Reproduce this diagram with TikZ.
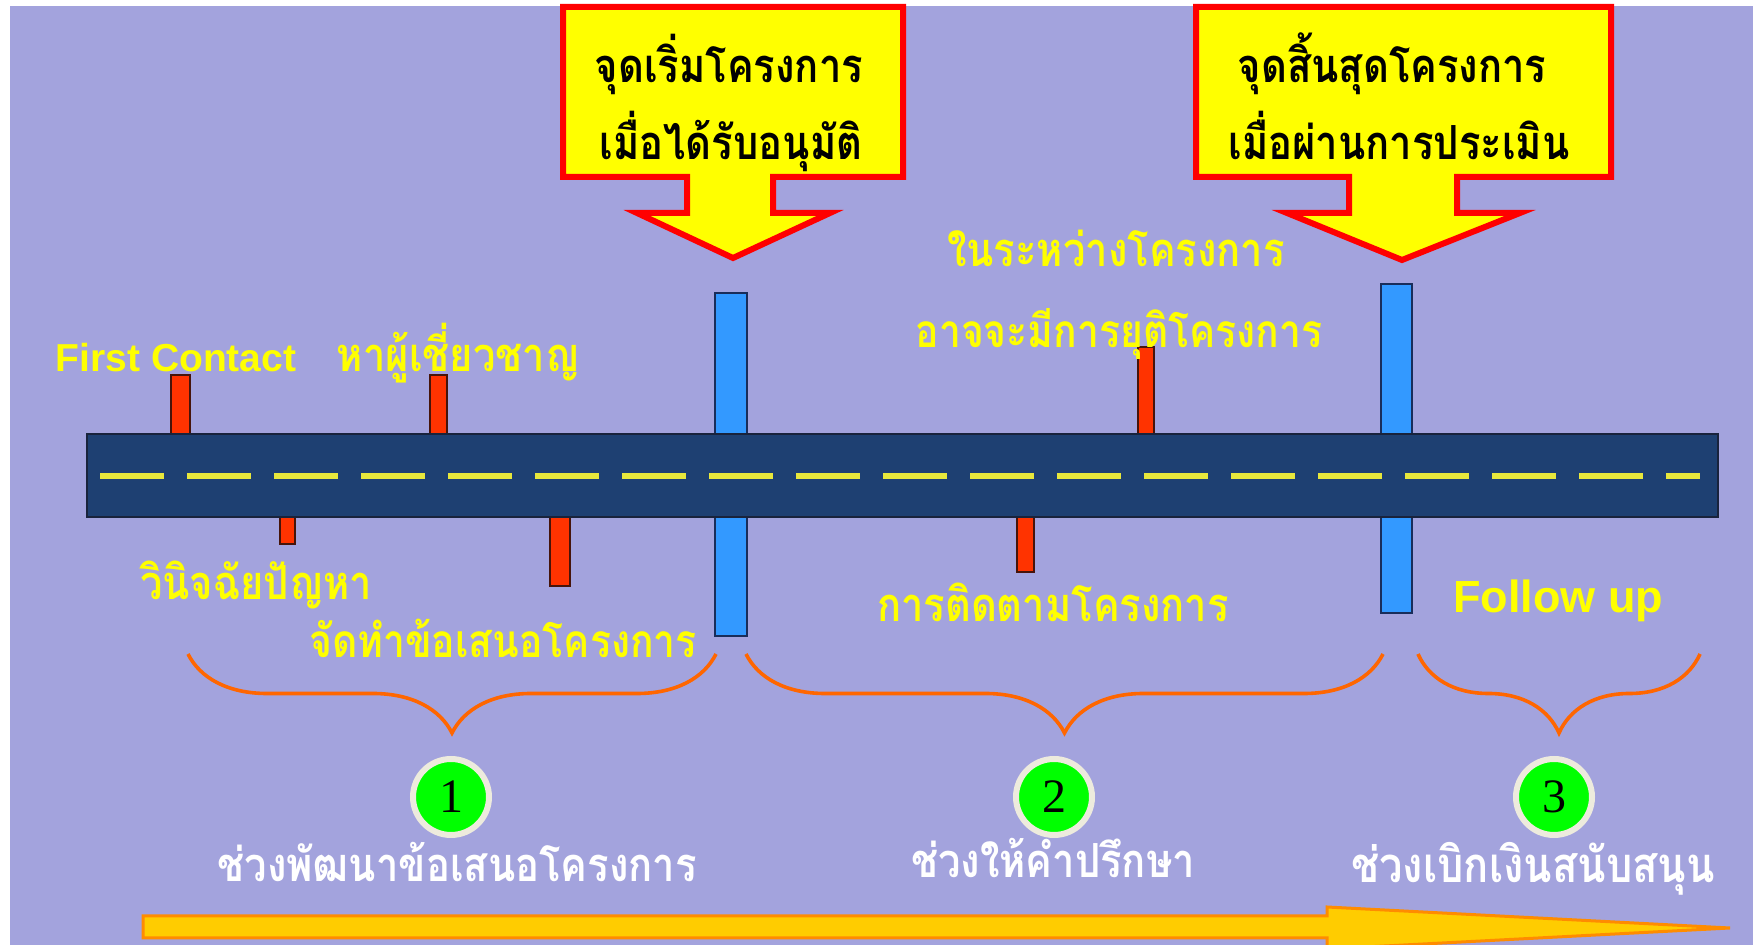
\documentclass[tikz,border=0pt]{standalone}
\usepackage{fontspec}
\usetikzlibrary{decorations.pathreplacing}
\newfontfamily\thai[Script=Thai,FakeStretch=0.85]{Loma}
\newfontfamily\engsans{Liberation Sans}
\newfontfamily\numfont{Liberation Serif}
\definecolor{bgc}{RGB}{163,163,221}
\definecolor{roadc}{RGB}{30,64,114}
\definecolor{roadedge}{RGB}{25,35,60}
\definecolor{dashc}{RGB}{232,232,60}
\definecolor{tickred}{RGB}{255,51,0}
\definecolor{tickedge}{RGB}{70,20,10}
\definecolor{barblue}{RGB}{51,153,255}
\definecolor{baredge}{RGB}{25,45,90}
\definecolor{callfill}{RGB}{255,255,0}
\definecolor{callred}{RGB}{255,0,0}
\definecolor{bracec}{RGB}{255,102,0}
\definecolor{greenc}{RGB}{0,255,0}
\definecolor{ringc}{RGB}{237,235,221}
\definecolor{arrfill}{RGB}{255,204,0}
\definecolor{arredge}{RGB}{255,140,0}
\definecolor{labyellow}{RGB}{255,255,0}
\tikzset{
  callout/.style={fill=callfill,draw=callred,line width=3pt,line join=miter},
  calltext/.style={anchor=base,inner sep=0pt,text=black,font=\thai\bfseries\fontsize{23.5}{25}\selectfont},
  ylabel/.style={anchor=base,inner sep=0pt,text=labyellow,font=\thai\bfseries\fontsize{23.5}{25}\selectfont},
  elabel/.style={anchor=base,inner sep=0pt,text=labyellow,font=\engsans\bfseries\fontsize{19.5}{22}\selectfont},
  wlabel/.style={anchor=base,inner sep=0pt,text=white,font=\thai\bfseries\fontsize{23.5}{25}\selectfont},
  tick/.style={fill=tickred,draw=tickedge,line width=0.8pt},
  bluebar/.style={fill=barblue,draw=baredge,line width=1pt},
  phasebrace/.style={draw=bracec,line width=1.8pt,decorate,decoration={brace,mirror,amplitude=39.5pt}},
  numcircle/.style={circle,fill=greenc,draw=ringc,line width=3pt,minimum size=38pt,inner sep=0pt,font=\numfont\fontsize{24}{24}\selectfont,text=black},
}
\begin{document}
\begin{tikzpicture}[x=0.5pt,y=-0.5pt]
\useasboundingbox (0,0) rectangle (1753,945);
\clip (0,0) rectangle (1753,945);
\fill[white] (0,0) rectangle (1753,945);
\fill[bgc] (10,6) rectangle (1753,945);

% blue milestone bars
\draw[bluebar] (715,293) rectangle (747,636);
\draw[bluebar] (1381,284) rectangle (1412,613);

% red ticks above
\draw[tick] (171,375) rectangle (190,436);
\draw[tick] (430,375) rectangle (447,436);
\draw[tick] (1138,347) rectangle (1154,436);
% red ticks below
\draw[tick] (280,516) rectangle (295,544);
\draw[tick] (550,516) rectangle (570,586);
\draw[tick] (1017,516) rectangle (1034,572);

% road
\draw[fill=roadc,draw=roadedge,line width=1pt] (87,434) rectangle (1718,517);
\coordinate (dashA) at (100,476);
\coordinate (dashB) at (1700,476);
\draw[dashc,line width=3.2pt,dash pattern=on 32pt off 11.5pt] (dashA) -- (dashB);

% callouts
\draw[callout] (563,7) -- (903,7) -- (903,177) -- (773,177) -- (773,213) -- (830,213) -- (733,258) -- (637,213) -- (687,213) -- (687,177) -- (563,177) -- cycle;
\draw[callout] (1196,7) -- (1611,7) -- (1611,177) -- (1457,177) -- (1457,213) -- (1520,213) -- (1402,260) -- (1287,213) -- (1349,213) -- (1349,177) -- (1196,177) -- cycle;
\node[calltext] (c1a) at (729,83) {จุดเริ่มโครงการ};
\node[calltext] (c1b) at (731,160) {เมื่อได้รับอนุมัติ};
\node[calltext] (c2a) at (1392,83) {จุดสิ้นสุดโครงการ};
\node[calltext] (c2b) at (1399,160) {เมื่อผ่านการประเมิน};

% yellow labels
\node[elabel] (fc) at (176,372) {First Contact};
\node[ylabel] (expert) at (458,372) {หาผู้เชี่ยวชาญ};
\node[ylabel] (during1) at (1116,267) {ในระหว่างโครงการ};
\node[ylabel,font=\thai\bfseries\fontsize{23}{25}\selectfont] (during2) at (1119,348) {อาจจะมีการยุติโครงการ};
\node[ylabel] (diag) at (256,600) {วินิจฉัยปัญหา};
\node[ylabel,font=\thai\bfseries\fontsize{23}{25}\selectfont] (propose) at (503,658) {จัดทำข้อเสนอโครงการ};
\node[ylabel] (track) at (1053,622) {การติดตามโครงการ};
\node[elabel,font=\engsans\bfseries\fontsize{22.5}{24}\selectfont] (follow) at (1558,613) {Follow up};

% braces
\draw[phasebrace] (188,654) -- (716,654);
\draw[phasebrace] (746,654) -- (1383,654);
\draw[phasebrace] (1418,654) -- (1700,654);

% numbered circles
\node[numcircle] (n1) at (451,797) {1};
\node[numcircle] (n2) at (1054,797) {2};
\node[numcircle] (n3) at (1554,797) {3};

% phase labels
\node[wlabel] (p1) at (457,882) {ช่วงพัฒนาข้อเสนอโครงการ};
\node[wlabel] (p2) at (1053,878) {ช่วงให้คำปรึกษา};
\node[wlabel,font=\thai\bfseries\fontsize{24.5}{26}\selectfont] (p3) at (1533,883) {ช่วงเบิกเงินสนับสนุน};

% time arrow
\draw[fill=arrfill,draw=arredge,line width=1.5pt,line join=miter] (143,916) -- (1327,916) -- (1327,907) -- (1730,928) -- (1327,949) -- (1327,938) -- (143,938) -- cycle;
\end{tikzpicture}
\end{document}
